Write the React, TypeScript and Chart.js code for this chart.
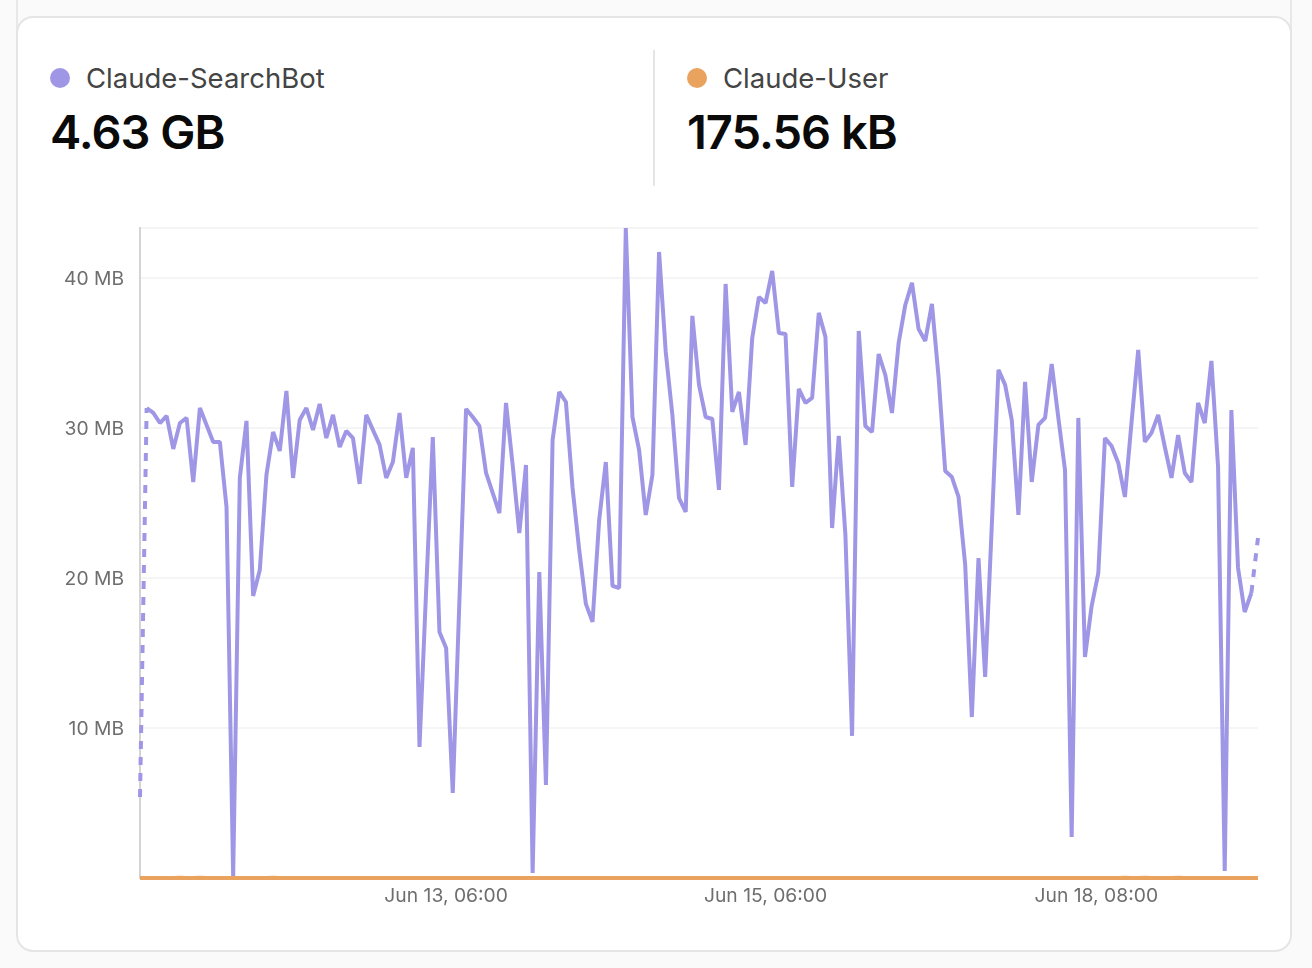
import React, { useEffect, useRef } from "react";
import { Chart, registerables } from "chart.js";

Chart.register(...registerables);

const searchBotMB = [
  5.4, 31.33, 31.0, 30.33, 30.8, 28.6, 30.33, 30.67, 26.4, 31.33, 30.2, 29.07, 29.07,
  24.73, 0.13, 26.67, 30.47, 18.8, 20.53, 26.87, 29.73, 28.47, 32.47, 26.67, 30.53, 31.33,
  29.87, 31.6, 29.33, 30.87, 28.73, 29.8, 29.33, 26.27, 30.87, 29.87, 28.87, 26.67, 27.73,
  31.0, 26.67, 28.67, 8.73, 19.2, 29.4, 16.4, 15.33, 5.67, 18.53, 31.27, 30.73, 30.13,
  27.0, 25.67, 24.33, 31.67, 27.53, 23.0, 27.53, 0.33, 20.4, 6.2, 29.2, 32.4, 31.73,
  26.0, 21.87, 18.27, 17.07, 23.87, 27.73, 19.47, 19.33, 43.33, 30.73, 28.53, 24.2, 26.87,
  41.73, 35.07, 30.87, 25.33, 24.4, 37.47, 32.87, 30.73, 30.6, 25.87, 39.6, 31.07, 32.4,
  28.87, 36.0, 38.73, 38.33, 40.47, 36.33, 36.27, 26.07, 32.6, 31.67, 32.0, 37.67, 36.07,
  23.33, 29.47, 22.87, 9.47, 36.47, 30.13, 29.73, 34.93, 33.53, 31.0, 35.67, 38.2, 39.67,
  36.6, 35.8, 38.27, 33.4, 27.13, 26.73, 25.4, 20.87, 10.73, 21.33, 13.4, 23.53, 33.87,
  32.87, 30.53, 24.2, 33.07, 26.4, 30.2, 30.67, 34.27, 30.67, 27.2, 2.73, 30.67, 14.73,
  18.13, 20.33, 29.33, 28.8, 27.67, 25.4, 30.4, 35.2, 29.07, 29.67, 30.87, 28.73, 26.67,
  29.53, 27.0, 26.4, 31.67, 30.33, 34.47, 27.4, 0.47, 31.2, 20.67, 17.73, 19.0, 22.67,
];

const userMB = [
  0, 0, 0, 0, 0, 0, 0.02, 0, 0, 0.02, 0, 0, 0,
  0, 0, 0, 0, 0, 0, 0, 0.02, 0, 0, 0, 0, 0,
  0, 0, 0, 0, 0, 0, 0, 0, 0, 0, 0, 0, 0,
  0, 0, 0, 0, 0, 0, 0, 0, 0, 0, 0, 0, 0,
  0, 0, 0, 0, 0, 0, 0, 0, 0, 0, 0, 0, 0,
  0, 0, 0, 0, 0, 0, 0, 0, 0, 0, 0, 0, 0,
  0, 0, 0, 0, 0, 0, 0, 0, 0, 0, 0, 0, 0,
  0, 0, 0, 0, 0, 0, 0, 0, 0, 0, 0, 0, 0,
  0, 0, 0, 0, 0, 0, 0, 0, 0, 0, 0, 0, 0,
  0, 0, 0, 0, 0, 0, 0, 0, 0, 0, 0, 0, 0,
  0, 0, 0, 0, 0, 0, 0, 0, 0, 0, 0, 0, 0,
  0, 0, 0, 0, 0, 0.02, 0, 0, 0.02, 0, 0, 0, 0,
  0.02, 0, 0, 0, 0, 0, 0, 0, 0, 0, 0, 0, 0,
];

const tickPositions = [46, 94, 143.7];
const tickTexts = ["Jun 13, 06:00", "Jun 15, 06:00", "Jun 18, 08:00"];
const yTicks = [10, 20, 30, 40];
const yMax = 43.33;

const seriesNames = ["Claude-SearchBot", "Claude-User"];
const totals = ["4.63 GB", "175.56 kB"];

const PURPLE = "#9f97e6";
const ORANGE = "#e9a35f";
const FONT = "Inter, 'Noto Sans', sans-serif";

const labels = searchBotMB.map((_, i) => i);

function Stat({ left, color, name, total }: { left: number; color: string; name: string; total: string }) {
  return (
    <>
      <div style={{ position: "absolute", left: left, top: 68, width: 20, height: 20, borderRadius: "50%", background: color }} />
      <div style={{ position: "absolute", left: left + 36, top: 60, font: `400 27.5px/36px ${FONT}`, color: "#444444", whiteSpace: "nowrap" }}>{name}</div>
      <div style={{ position: "absolute", left: left, top: 101, font: `600 47px/62px ${FONT}`, color: "#0a0a0a", whiteSpace: "nowrap", letterSpacing: "-1px" }}>{total}</div>
    </>
  );
}

export default function App() {
  const ref = useRef<HTMLCanvasElement>(null);
  useEffect(() => {
    if (!ref.current) return;
    const last = searchBotMB.length - 1;
    const chart = new Chart(ref.current, {
      type: "line",
      data: {
        labels,
        datasets: [
          {
            label: seriesNames[0],
            data: searchBotMB,
            borderColor: PURPLE,
            borderWidth: 4,
            borderJoinStyle: "bevel",
            pointRadius: 0,
            tension: 0,
            clip: { left: 4, right: 4, top: 0, bottom: 4 } as any,
            segment: {
              borderDash: (c: any) => (c.p0DataIndex === 0 || c.p1DataIndex === last ? [8, 8] : undefined),
            },
          },
          {
            label: seriesNames[1],
            data: userMB,
            borderColor: ORANGE,
            borderWidth: 4,
            pointRadius: 0,
            tension: 0,
            clip: false as any,
          },
        ],
      },
      options: {
        animation: false,
        responsive: false,
        devicePixelRatio: 1,
        layout: { padding: { left: 0, right: 54, top: 228, bottom: 0 } },
        plugins: { legend: { display: false }, tooltip: { enabled: false } },
        scales: {
          x: {
            type: "linear",
            min: 0,
            max: last,
            afterBuildTicks: (s: any) => { s.ticks = tickPositions.map((value) => ({ value })); },
            afterFit: (s: any) => { s.height = 90; },
            grid: { display: false, drawTicks: false },
            border: { display: false },
            ticks: {
              autoSkip: false,
              maxRotation: 0,
              minRotation: 0,
              padding: 7,
              color: "#6e6e6e",
              font: { family: FONT, size: 19.3 },
              callback: (v: any) => tickTexts[tickPositions.indexOf(v)] ?? "",
            },
          },
          y: {
            min: 0,
            max: yMax,
            afterFit: (s: any) => { s.width = 140; },
            grid: { color: "#f5f5f5", lineWidth: 2, drawTicks: false },
            border: { display: true, color: "#d4d4d4", width: 2 },
            ticks: {
              stepSize: 10,
              padding: 16,
              labelOffset: 1,
              color: "#6e6e6e",
              font: { family: FONT, size: 19.3 },
              callback: (v: any) => (yTicks.includes(v) ? `${v} MB` : ""),
            },
          },
        },
      },
    });
    return () => chart.destroy();
  }, []);

  return (
    <div style={{ position: "absolute", left: 0, top: 0, width: 1312, height: 968, background: "#fafafa", overflow: "hidden" }}>
      <div style={{ position: "absolute", left: 16, top: 0, width: 2, height: 34, background: "#e8e8e8" }} />
      <div style={{ position: "absolute", left: 1290, top: 0, width: 2, height: 34, background: "#e8e8e8" }} />
      <div style={{ position: "absolute", left: 16, top: 16, width: 1276, height: 936, boxSizing: "border-box", background: "#ffffff", border: "2px solid #e5e5e5", borderRadius: 17 }} />
      <Stat left={50} color={PURPLE} name={seriesNames[0]} total={totals[0]} />
      <div style={{ position: "absolute", left: 653, top: 50, width: 2, height: 136, background: "#e5e5e5" }} />
      <Stat left={687} color={ORANGE} name={seriesNames[1]} total={totals[1]} />
      <canvas ref={ref} width={1312} height={968} style={{ position: "absolute", left: 0, top: 0, width: 1312, height: 968 }} />
    </div>
  );
}
